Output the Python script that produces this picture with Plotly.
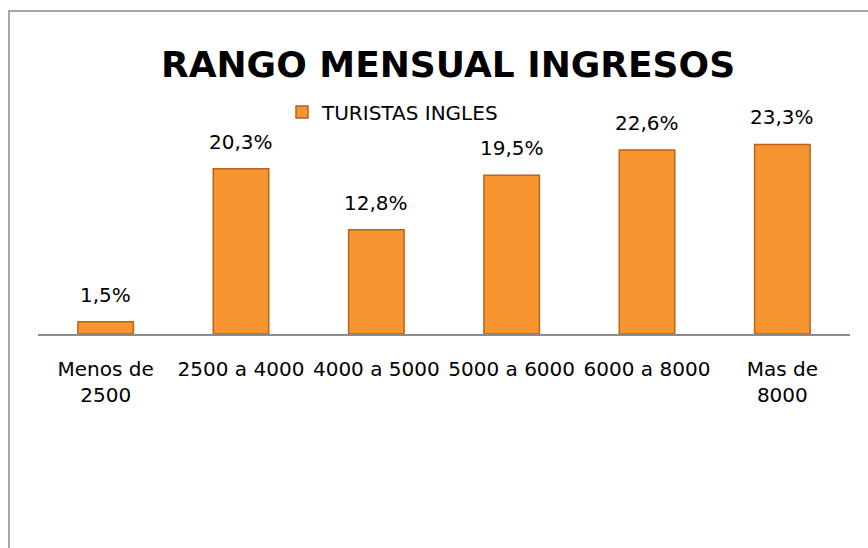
import plotly.graph_objects as go

# Monthly income ranges and share of English tourists (%)
categories = ["Menos de<br>2500", "2500 a 4000", "4000 a 5000",
              "5000 a 6000", "6000 a 8000", "Mas de<br>8000"]
values = [1.5, 20.3, 12.8, 19.5, 22.6, 23.3]
series_name = "TURISTAS INGLES"
title_text = "RANGO MENSUAL INGRESOS"

FONT = "DejaVu Sans"
BAR_FILL = "#F6942F"
BAR_EDGE = "#B9631C"

fig = go.Figure()
fig.add_trace(go.Bar(
    x=categories,
    y=values,
    name=series_name,
    marker=dict(color=BAR_FILL, line=dict(color=BAR_EDGE, width=1.5)),
    showlegend=True,
))

# value labels above each bar, formatted with a decimal comma
for cat, v in zip(categories, values):
    fig.add_annotation(
        x=cat, y=v, xref="x", yref="y",
        text=f"{v:.1f}%".replace(".", ","),
        showarrow=False, yanchor="bottom", yshift=13,
        font=dict(family=FONT, size=20, color="#000000"),
    )

# outer chart frame (runs past the right and bottom edges)
fig.add_shape(
    type="rect", xref="paper", yref="paper",
    x0=-0.0357, x1=1.03, y0=-1.02, y1=1.509,
    line=dict(color="#8C8C8C", width=1.5), fillcolor="rgba(0,0,0,0)",
    layer="below",
)

fig.update_layout(
    width=868, height=548, autosize=False,
    margin=dict(l=38, r=18, t=120, b=214, pad=0),
    paper_bgcolor="white", plot_bgcolor="white",
    title=dict(
        text=f"<b>{title_text}</b>",
        x=(448 / 868), xanchor="center", xref="container",
        y=1 - 64 / 548, yanchor="middle", yref="container",
        font=dict(family=FONT, size=36, color="#000000"),
    ),
    bargap=0.59,
    legend=dict(
        orientation="h", x=0.3005, xanchor="left",
        y=1.037, yanchor="middle",
        font=dict(family=FONT, size=20, color="#000000"),
        bgcolor="rgba(0,0,0,0)",
    ),
    xaxis=dict(
        showline=True, linecolor="#8C8C8C", linewidth=1.5,
        showgrid=False, zeroline=False,
        ticks="", ticklabelstandoff=16,
        tickfont=dict(family=FONT, size=20, color="#000000"),
    ),
    yaxis=dict(visible=False, range=[0, 26.3], showgrid=False, zeroline=False),
)

fig.write_html("out.html")
